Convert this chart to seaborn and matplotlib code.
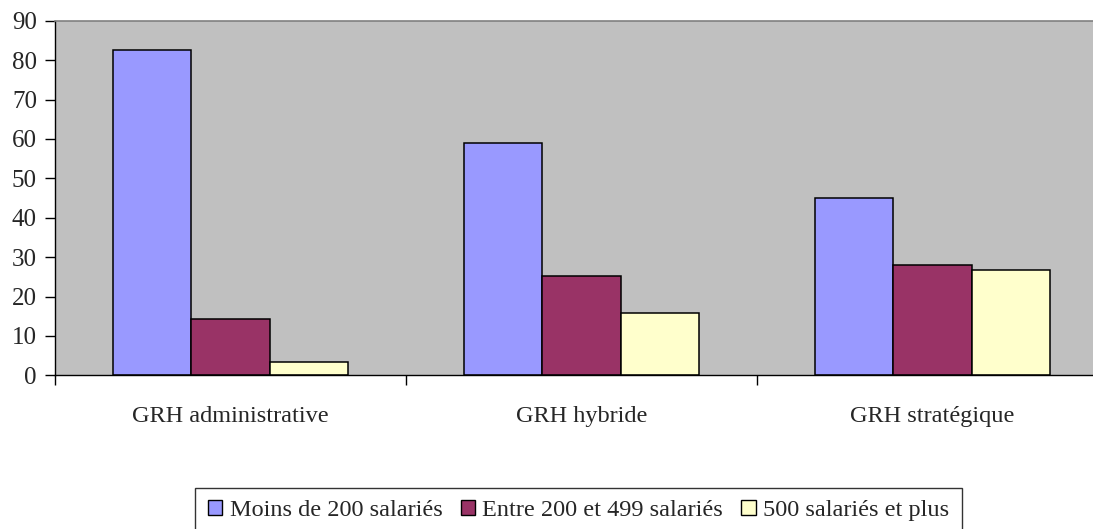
import matplotlib
matplotlib.use("Agg")
import matplotlib.pyplot as plt
import seaborn as sns
import pandas as pd

categories = ["GRH administrative", "GRH hybride", "GRH stratégique"]
series_names = ["Moins de 200 salariés", "Entre 200 et 499 salariés", "500 salariés et plus"]
moins_200 = [82.5, 58.9, 45.1]
entre_200_499 = [14.2, 25.1, 27.9]
plus_500 = [3.4, 15.8, 26.6]
y_ticks = [0, 10, 20, 30, 40, 50, 60, 70, 80, 90]

colors = ["#9999FF", "#993366", "#FFFFCC"]

rows = []
for name, vals in zip(series_names, [moins_200, entre_200_499, plus_500]):
    for cat, v in zip(categories, vals):
        rows.append({"Catégorie": cat, "Taille": name, "Valeur": v})
df = pd.DataFrame(rows)

sns.set_style("white")
plt.rcParams["font.family"] = ["Liberation Serif", "DejaVu Serif"]

W, H = 1093, 529
fig = plt.figure(figsize=(W / 100, H / 100), dpi=100)
ax = fig.add_axes([55 / W, (H - 375.3) / H, 1053 / W, (375.3 - 20.7) / H])

sns.barplot(data=df, x="Catégorie", y="Valeur", hue="Taille",
            order=categories, hue_order=series_names,
            palette=colors, width=0.667, gap=0,
            edgecolor="black", linewidth=1.1, saturation=1,
            ax=ax, legend=False)

ax.set_facecolor("#C0C0C0")
ax.set_xlim(-0.5, 2.5)
ax.set_ylim(0, 90)
ax.set_xlabel("")
ax.set_ylabel("")

ax.set_yticks(y_ticks)
ax.tick_params(axis="y", direction="out", length=7, width=1, color="black",
               labelsize=18, pad=6, left=True)

# category boundaries as major ticks, names as minor tick labels
ax.set_xticks([-0.5, 0.5, 1.5, 2.5])
ax.set_xticklabels([])
ax.set_xticks([0, 1, 2], minor=True)
ax.set_xticklabels(categories, minor=True)
ax.tick_params(axis="x", which="major", direction="out", length=7, width=1,
               color="black", bottom=True)
ax.tick_params(axis="x", which="minor", length=0, labelsize=17.5, pad=22)

for side in ["left", "bottom"]:
    ax.spines[side].set_color("black")
    ax.spines[side].set_linewidth(1)
ax.spines["top"].set_color("#808080")
ax.spines["top"].set_linewidth(1.2)
ax.spines["right"].set_color("#808080")

handles = [plt.Rectangle((0, 0), 1, 1, facecolor=c, edgecolor="black", linewidth=1)
           for c in colors]
leg = fig.legend(handles, series_names, loc="upper center",
                 bbox_to_anchor=(578.5 / W, 1 - 487.5 / H), ncol=3,
                 frameon=True, fancybox=False, shadow=False,
                 fontsize=17.5, handlelength=0.6, handleheight=0.6,
                 handletextpad=0.3, columnspacing=0.75, borderpad=0.5,
                 borderaxespad=0)
leg.get_frame().set_edgecolor("black")
leg.get_frame().set_linewidth(1)

fig.savefig("out.png", dpi=100, facecolor="white")
